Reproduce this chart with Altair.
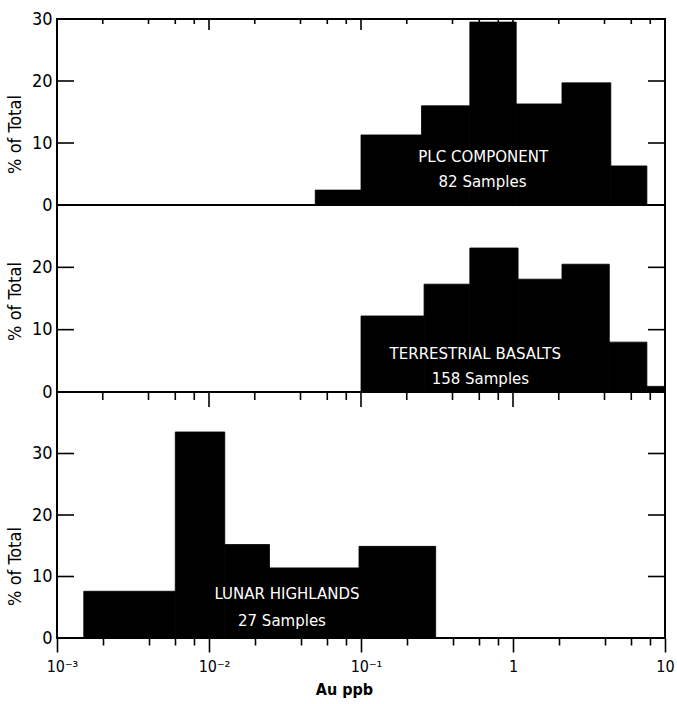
import altair as alt
import pandas as pd

# ---------------- data ----------------
PLC_EDGES = [0.05, 0.10, 0.25, 0.52, 1.05, 2.1, 4.4, 7.6]
PLC_PCT = [2.4, 11.3, 16.0, 29.5, 16.3, 19.7, 6.3]

TB_EDGES = [0.10, 0.26, 0.52, 1.08, 2.1, 4.3, 7.6, 10.0]
TB_PCT = [12.2, 17.3, 23.1, 18.1, 20.5, 8.0, 0.9]

LH_EDGES = [0.0015, 0.006, 0.0127, 0.025, 0.097, 0.31]
LH_PCT = [7.6, 33.5, 15.2, 11.4, 14.9]

PANEL_NAMES = ["PLC COMPONENT", "TERRESTRIAL BASALTS", "LUNAR HIGHLANDS"]
PANEL_COUNTS = ["82 Samples", "158 Samples", "27 Samples"]

X_MAJOR = [0.001, 0.01, 0.1, 1, 10]
X_MAJOR_LABELS = ["10⁻³", "10⁻²", "10⁻¹", "1", "10"]
X_MINOR_MULT = [2, 4, 6, 8]

# annotation anchors in data units (x: Au ppb, y: % of total)
ANN_NAME_XY = [(0.637, 6.9), (0.565, 5.3), (0.0326, 6.3)]
ANN_COUNT_XY = [(0.63, 2.9), (0.61, 1.3), (0.0302, 1.95)]

# ---------------- styling ----------------
FONT = "DejaVu Sans Condensed"
TEXT_FONT = "DejaVu Sans"
TICK_W = 1.6
X_MINOR = [m * d for d in X_MAJOR[:-1] for m in X_MINOR_MULT]
LABEL_EXPR = "".join(
    f"datum.value < {v * 1.5:g} ? '{lab}' : "
    for v, lab in zip(X_MAJOR[:-1], X_MAJOR_LABELS[:-1])
) + f"'{X_MAJOR_LABELS[-1]}'"

XMIN, XMAX = X_MAJOR[0], X_MAJOR[-1]
XS = alt.Scale(type="log", domain=[XMIN, XMAX], nice=False)
PLOT_W = 608


def y_left(values, title_y):
    return alt.Axis(
        orient="left", values=values, ticks=False, domain=False,
        grid=False, labelFont=FONT, labelFontSize=18, labelColor="black",
        labelPadding=5, labelOverlap=False, labelFlush=False,
        title="% of Total", titleFont=FONT, titleFontSize=18,
        titleFontWeight="normal", titleColor="black", titlePadding=7,
        titleY=title_y,
    )


X_BOTTOM_MAJOR = alt.Axis(
    orient="bottom", values=X_MAJOR, tickSize=14, domain=False, grid=False,
    tickColor="black", tickWidth=TICK_W, labelExpr=LABEL_EXPR, labelFont=FONT,
    labelFontSize=16, labelColor="black", labelPadding=6, labelOverlap=False,
    labelFlush=False,
    labelOffset={"condition": {"test": "datum.value < 0.5", "value": 5},
                 "value": 0},
    title="Au ppb", titleFont=FONT, titleFontSize=16,
    titleFontWeight="bold", titleColor="black", titleX=287, titleY=56,
    titleBaseline="alphabetic",
)
X_BOTTOM_MINOR = alt.Axis(
    orient="bottom", values=X_MINOR, tickSize=7, domain=False, grid=False,
    labels=False, tickColor="black", tickWidth=TICK_W, title=None,
)


def top_ticks(values, length, ys, ymax):
    return alt.Chart(pd.DataFrame({"v": values})).mark_rule(
        color="black", strokeWidth=TICK_W, y2Offset=length
    ).encode(
        x=alt.X("v:Q", scale=XS, axis=None),
        y=alt.YDatum(ymax, scale=ys, axis=None),
        y2=alt.datum(ymax),
    )


def side_ticks(values, ys, at, length):
    return alt.Chart(pd.DataFrame({"v": values})).mark_rule(
        color="black", strokeWidth=TICK_W, x2Offset=length
    ).encode(
        x=alt.XDatum(at, scale=XS, axis=None),
        x2=alt.datum(at),
        y=alt.Y("v:Q", scale=ys, axis=None),
    )


def panel(idx, edges, pct, height, ydom, ylabels, yticks, title_y,
          top_sizes=None, bottom=False):
    df = pd.DataFrame({"x0": edges[:-1], "x1": edges[1:], "pct": pct})
    ys = alt.Scale(domain=ydom, nice=False, zero=True)
    base = alt.Chart(df)

    bars = base.mark_rect(color="black", stroke="black", strokeWidth=0.8).encode(
        x=alt.X("x0:Q", scale=XS, axis=X_BOTTOM_MAJOR if bottom else None),
        x2="x1:Q",
        y=alt.Y("pct:Q", scale=ys, axis=y_left(ylabels, title_y)),
        y2=alt.datum(0),
    )
    layers = [bars]
    if bottom:
        layers.append(base.mark_rect(opacity=0).encode(
            x=alt.X("x0:Q", scale=XS, axis=X_BOTTOM_MINOR),
            x2="x1:Q",
            y=alt.Y("pct:Q", scale=ys, axis=None),
            y2=alt.datum(0),
        ))
    if top_sizes:
        layers.append(top_ticks(X_MAJOR, top_sizes[0], ys, ydom[1]))
        layers.append(top_ticks(X_MINOR, top_sizes[1], ys, ydom[1]))
    layers.append(side_ticks(yticks, ys, XMIN, 17))
    layers.append(side_ticks(yticks, ys, XMAX, -17))

    tdf = pd.DataFrame({
        "x": [ANN_NAME_XY[idx][0], ANN_COUNT_XY[idx][0]],
        "y": [ANN_NAME_XY[idx][1], ANN_COUNT_XY[idx][1]],
        "label": [PANEL_NAMES[idx], PANEL_COUNTS[idx]],
    })
    text = alt.Chart(tdf).mark_text(
        color="white", font=TEXT_FONT, fontSize=15, align="center",
        baseline="alphabetic",
    ).encode(
        x=alt.X("x:Q", scale=XS, axis=None),
        y=alt.Y("y:Q", scale=ys, axis=None),
        text="label:N",
    )
    layers.append(text)
    ch = alt.layer(*layers).resolve_axis(x="independent", y="independent")
    return ch.properties(width=PLOT_W, height=height)


p1 = panel(0, PLC_EDGES, PLC_PCT, 186, [0, 30], [0, 10, 20, 30], [10, 20],
           115, top_sizes=(11, 5))
p2 = panel(1, TB_EDGES, TB_PCT, 187, [0, 30], [0, 10, 20], [10, 20], 96)
p3 = panel(2, LH_EDGES, LH_PCT, 246, [0, 40], [0, 10, 20, 30], [10, 20, 30],
           174, top_sizes=(15, 8), bottom=True)

chart = alt.vconcat(p1, p2, p3, spacing=0, bounds="flush").properties(
    padding={"left": 5, "top": 9, "right": 0, "bottom": 1},
    background="white",
).configure_view(stroke="black", strokeWidth=2)

chart.save("out.html", embed_options={"renderer": "svg", "actions": False})
